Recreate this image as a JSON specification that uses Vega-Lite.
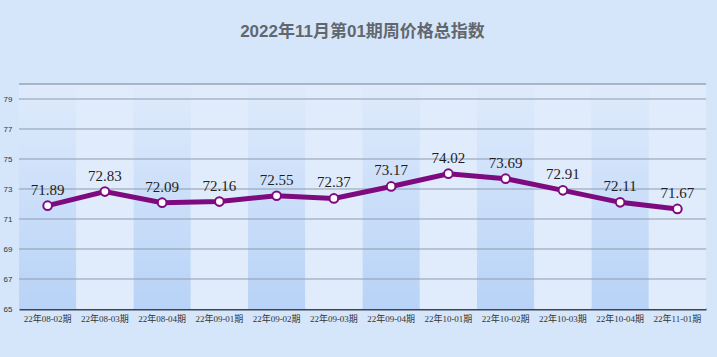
{
  "$schema": "https://vega.github.io/schema/vega-lite/v6.json",
  "width": 687,
  "height": 225,
  "autosize": {"type": "none"},
  "padding": {"left": 19, "top": 84, "right": 11, "bottom": 48},
  "background": "#d6e6fa",
  "title": {
    "text": "2022年11月第01期周价格总指数",
    "fontSize": 17,
    "fontWeight": "bold",
    "color": "#62676e",
    "font": "Liberation Sans, Noto Sans CJK SC",
    "baseline": "alphabetic",
    "offset": 29,
    "anchor": "middle"
  },
  "config": {
    "view": {"stroke": null},
    "axisX": {
      "grid": false,
      "domain": true,
      "domainColor": "#3c4350",
      "domainWidth": 2,
      "ticks": false,
      "labelFontSize": 9,
      "labelColor": "#333333",
      "labelFont": "Liberation Serif, Noto Sans CJK SC",
      "labelPadding": 5,
      "labelAngle": 0,
      "labelOverlap": false,
      "labelBound": false
    }
  },
  "data": {
    "values": [
      {"period": "22年08-02期", "value": 71.89},
      {"period": "22年08-03期", "value": 72.83},
      {"period": "22年08-04期", "value": 72.09},
      {"period": "22年09-01期", "value": 72.16},
      {"period": "22年09-02期", "value": 72.55},
      {"period": "22年09-03期", "value": 72.37},
      {"period": "22年09-04期", "value": 73.17},
      {"period": "22年10-01期", "value": 74.02},
      {"period": "22年10-02期", "value": 73.69},
      {"period": "22年10-03期", "value": 72.91},
      {"period": "22年10-04期", "value": 72.11},
      {"period": "22年11-01期", "value": 71.67}
    ]
  },
  "layer": [
    {
      "transform": [
        {"window": [{"op": "row_number", "as": "idx"}]},
        {"filter": "datum.idx % 2 == 1"}
      ],
      "mark": {
        "type": "bar",
        "color": {
          "gradient": "linear",
          "x1": 0, "y1": 0, "x2": 0, "y2": 1,
          "stops": [
            {"offset": 0, "color": "#dfebfc"},
            {"offset": 1, "color": "#b8d3f7"}
          ]
        }
      },
      "encoding": {
        "x": {"field": "period", "type": "nominal", "title": null,
              "sort": ["22年08-02期","22年08-03期","22年08-04期","22年09-01期","22年09-02期","22年09-03期","22年09-04期","22年10-01期","22年10-02期","22年10-03期","22年10-04期","22年11-01期"],
              "scale": {"paddingInner": 0, "paddingOuter": 0}},
        "y": {"datum": 80, "type": "quantitative",
              "scale": {"domain": [65, 80], "nice": false, "zero": false},
              "axis": {"values": [65, 67, 69, 71, 73, 75, 77, 79], "labelOverlap": false, "grid": false, "domain": false, "ticks": false, "labelFontSize": 8, "labelColor": "#333333", "labelPadding": 7, "labelFont": "Liberation Sans", "tickCount": 8}},
        "y2": {"datum": 65}
      }
    },
    {
      "transform": [
        {"window": [{"op": "row_number", "as": "idx"}]},
        {"filter": "datum.idx % 2 == 0"}
      ],
      "mark": {"type": "bar", "color": "#e0ecfc"},
      "encoding": {
        "x": {"field": "period", "type": "nominal", "title": null,
              "sort": ["22年08-02期","22年08-03期","22年08-04期","22年09-01期","22年09-02期","22年09-03期","22年09-04期","22年10-01期","22年10-02期","22年10-03期","22年10-04期","22年11-01期"]},
        "y": {"datum": 80, "type": "quantitative"},
        "y2": {"datum": 65}
      }
    },
    {
      "data": {"values": [{"g": 67}, {"g": 69}, {"g": 71}, {"g": 73}, {"g": 75}, {"g": 77}, {"g": 79}]},
      "mark": {"type": "rule", "color": "#8e9bad", "strokeWidth": 1},
      "encoding": {
        "y": {"field": "g", "type": "quantitative", "title": null}
      }
    },
    {
      "mark": {"type": "rule", "color": "#a8b5c7", "strokeWidth": 2},
      "encoding": {
        "y": {"datum": 80, "type": "quantitative"}
      }
    },
    {
      "mark": {"type": "line", "color": "#7e0a80", "strokeWidth": 5},
      "encoding": {
        "x": {"field": "period", "type": "nominal", "title": null,
              "sort": ["22年08-02期","22年08-03期","22年08-04期","22年09-01期","22年09-02期","22年09-03期","22年09-04期","22年10-01期","22年10-02期","22年10-03期","22年10-04期","22年11-01期"]},
        "y": {"field": "value", "type": "quantitative", "title": null}
      }
    },
    {
      "mark": {"type": "point", "shape": "circle", "filled": false, "fill": "#ffffff", "stroke": "#7e0a80", "strokeWidth": 2, "size": 75, "opacity": 1, "fillOpacity": 1},
      "encoding": {
        "x": {"field": "period", "type": "nominal", "title": null,
              "sort": ["22年08-02期","22年08-03期","22年08-04期","22年09-01期","22年09-02期","22年09-03期","22年09-04期","22年10-01期","22年10-02期","22年10-03期","22年10-04期","22年11-01期"]},
        "y": {"field": "value", "type": "quantitative", "title": null}
      }
    },
    {
      "mark": {"type": "text", "font": "Liberation Serif", "fontSize": 15, "color": "#1e1e1e", "baseline": "alphabetic", "dy": -11},
      "encoding": {
        "x": {"field": "period", "type": "nominal", "title": null,
              "sort": ["22年08-02期","22年08-03期","22年08-04期","22年09-01期","22年09-02期","22年09-03期","22年09-04期","22年10-01期","22年10-02期","22年10-03期","22年10-04期","22年11-01期"]},
        "y": {"field": "value", "type": "quantitative", "title": null},
        "text": {"field": "value", "type": "quantitative", "format": ".2f"}
      }
    }
  ]
}
